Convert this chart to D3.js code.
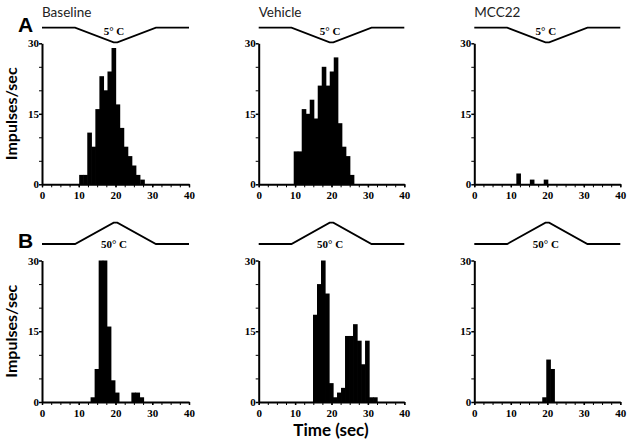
<!DOCTYPE html>
<html>
<head>
<meta charset="utf-8">
<script src="https://cdn.jsdelivr.net/npm/d3@7"></script>
<style>
  html, body { margin: 0; padding: 0; background: #fff; }
  svg { display: block; }
  .tick text { font-family: "Liberation Serif", "Times New Roman", serif; font-weight: bold; font-size: 11px; fill: #000; }
</style>
</head>
<body>
<svg id="chart" width="632" height="447"></svg>
<script>
// ---------------- data ----------------
const columnTitles = ["Baseline", "Vehicle", "MCC22"];
const rowLetters = ["A", "B"];
const stimulusLabels = ["5° C", "50° C"];
const xTickLabels = [0, 10, 20, 30, 40];
const yTickLabels = [0, 15, 30];
const binWidth = 1.1; // seconds per histogram bin

// Row A (cold, 5° C) — bin start times (s) and rates (impulses/sec)
const baseA_t = [10.2, 11.3, 12.4, 13.5, 14.6, 15.7, 16.8, 17.9, 19.0, 20.1, 21.2, 22.3, 23.4, 24.5, 25.6, 26.8];
const baseA_v = [2, 2, 11, 8, 16, 23, 20, 24, 29, 17, 12, 8, 6, 4, 2, 1];
const vehA_t = [9.7, 10.8, 11.9, 13.0, 14.1, 15.2, 16.3, 17.4, 18.5, 19.6, 20.7, 21.8, 22.9, 24.0, 25.1];
const vehA_v = [7, 7, 16, 15, 18, 14, 21, 25, 21, 24, 27, 13, 8, 6, 2];
const mccA_t = [11.6, 15.3, 19.1];
const mccA_v = [2.3, 1, 1];

// Row B (heat, 50° C)
const baseB_t = [13.3, 14.4, 15.5, 16.6, 17.7, 18.8, 19.9, 24.4, 25.5, 26.6];
const baseB_v = [1, 7, 30, 30, 16, 4.6, 2, 2, 2, 1];
const vehB_t = [15.0, 16.1, 17.2, 18.3, 19.4, 20.5, 21.6, 22.7, 23.8, 24.9, 26.0, 27.1, 28.2, 29.3, 30.4, 31.5];
const vehB_v = [18.5, 25, 30, 23, 4, 1, 2, 3, 14, 14, 16.5, 13, 8, 13, 1, 1];
const mccB_t = [18.7, 19.8, 20.9];
const mccB_v = [1, 9, 7];

// Temperature stimulus traces (time s, temperature °C)
const stimT = [0, 9, 19.5, 20.5, 31, 40];
const coldTemp = [32, 32, 5, 5, 32, 32];
const heatTemp = [32, 32, 50, 50, 32, 32];

// ---------------- layout ----------------
const svg = d3.select("#chart");
const cols = [
  { x0: 42, x1: 189 },
  { x0: 258.7, x1: 404.3 },
  { x0: 474.3, x1: 620.3 }
];
const rows = [
  { y0: 184.3, y1: 43.3, tFlat: 27.7, tExt: 42.3, tDom: [32, 5], temps: coldTemp, labY: 34.5, letterY: 32,
    panels: [[baseA_t, baseA_v], [vehA_t, vehA_v], [mccA_t, mccA_v]] },
  { y0: 402, y1: 260.5, tFlat: 244, tExt: 222.7, tDom: [32, 50], temps: heatTemp, labY: 248, letterY: 248,
    panels: [[baseB_t, baseB_v], [vehB_t, vehB_v], [mccB_t, mccB_v]] }
];

rows.forEach((row, ri) => {
  cols.forEach((col, ci) => {
    const x = d3.scaleLinear().domain([0, 40]).range([col.x0, col.x1]);
    const y = d3.scaleLinear().domain([0, 30]).range([row.y0, row.y1]);
    const ty = d3.scaleLinear().domain(row.tDom).range([row.tFlat, row.tExt]);
    const g = svg.append("g");

    // stimulus trace
    const line = d3.line().x(d => x(d[0])).y(d => ty(d[1]));
    g.append("path")
      .datum(stimT.map((t, i) => [t, row.temps[i]]))
      .attr("d", line)
      .attr("fill", "none")
      .attr("stroke", "#000")
      .attr("stroke-width", 1.8);
    g.append("text")
      .attr("x", x(19.6))
      .attr("y", row.labY)
      .attr("text-anchor", "middle")
      .style("font-family", "'Liberation Serif', 'Times New Roman', serif")
      .style("font-weight", "bold")
      .style("font-size", "11px")
      .text(stimulusLabels[ri]);

    // bars (slight overlap so neighbouring bins merge without hairline gaps)
    const [ts, vs] = row.panels[ci];
    g.selectAll("rect.bar")
      .data(ts.map((t, i) => ({ t, v: vs[i] })))
      .join("rect")
      .attr("class", "bar")
      .attr("x", d => x(d.t) - 0.3)
      .attr("width", d => x(d.t + binWidth) - x(d.t) + 0.6)
      .attr("y", d => y(d.v))
      .attr("height", d => y(0) - y(d.v))
      .attr("fill", "#000");

    // axes: minor ticks
    g.append("g")
      .attr("transform", `translate(0,${row.y0})`)
      .call(d3.axisBottom(x).tickValues(d3.range(0, 40.01, 2.5)).tickSize(3).tickSizeOuter(0).tickFormat(""))
      .call(a => a.select(".domain").remove())
      .call(a => a.selectAll("line").attr("stroke-width", 1));
    g.append("g")
      .attr("transform", `translate(${col.x0},0)`)
      .call(d3.axisLeft(y).tickValues([5, 10, 20, 25]).tickSize(3).tickSizeOuter(0).tickFormat(""))
      .call(a => a.select(".domain").remove())
      .call(a => a.selectAll("line").attr("stroke-width", 1));

    // major axes
    g.append("g")
      .attr("transform", `translate(0,${row.y0})`)
      .call(d3.axisBottom(x).tickValues(xTickLabels).tickSize(3).tickSizeOuter(0).tickPadding(4))
      .call(a => a.select(".domain").attr("stroke-width", 2))
      .call(a => a.selectAll("line").attr("stroke-width", 1.5));
    g.append("g")
      .attr("transform", `translate(${col.x0},0)`)
      .call(d3.axisLeft(y).tickValues(yTickLabels).tickSize(3).tickSizeOuter(0).tickPadding(0))
      .call(a => a.select(".domain").attr("stroke-width", 2))
      .call(a => a.selectAll("line").attr("stroke-width", 1.5));

    // column titles
    if (ri === 0) {
      svg.append("text")
        .attr("x", col.x0)
        .attr("y", 17)
        .style("font-family", "Lato, 'Open Sans', sans-serif")
        .style("font-size", "13.5px")
        .attr("fill", "#222")
        .text(columnTitles[ci]);
    }
  });

  // row letter
  svg.append("text")
    .attr("x", 18)
    .attr("y", row.letterY)
    .style("font-family", "'Liberation Sans', Arial, sans-serif")
    .style("font-weight", "bold")
    .style("font-size", "21px")
    .text(rowLetters[ri]);

  // y axis title
  const cy = (row.y0 + row.y1) / 2;
  svg.append("text")
    .attr("transform", `translate(17,${cy}) rotate(-90)`)
    .attr("text-anchor", "middle")
    .style("font-family", "Lato, 'Open Sans', sans-serif")
    .style("font-weight", "bold")
    .style("font-size", "16px")
    .text("Impulses/sec");
});

// x axis title
svg.append("text")
  .attr("x", 331)
  .attr("y", 436)
  .attr("text-anchor", "middle")
  .style("font-family", "Lato, 'Open Sans', sans-serif")
  .style("font-weight", "bold")
  .style("font-size", "17px")
  .text("Time (sec)");
</script>
</body>
</html>
